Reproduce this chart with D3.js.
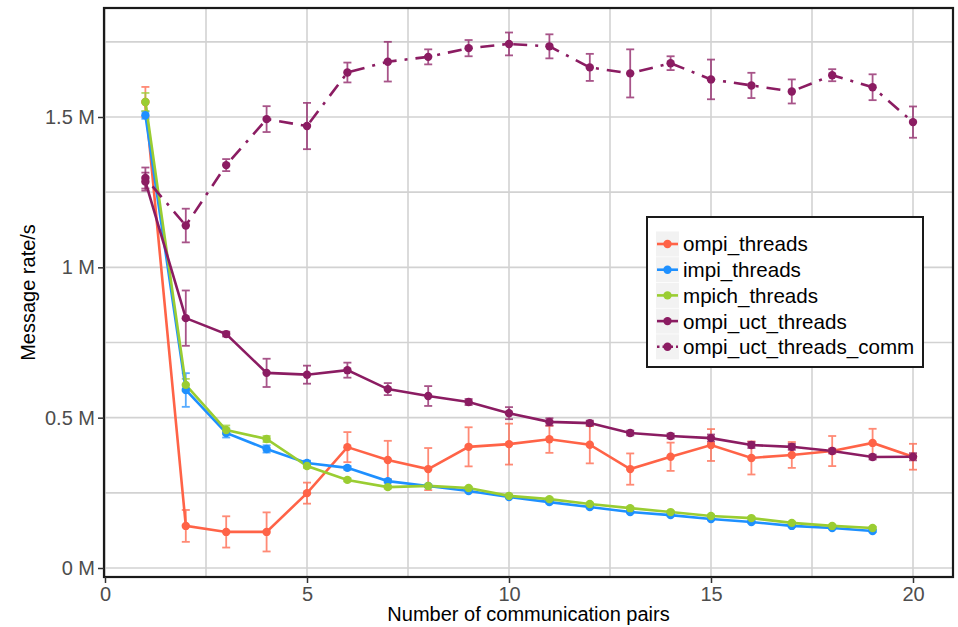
<!DOCTYPE html>
<html>
<head>
<meta charset="utf-8">
<script src="https://cdn.jsdelivr.net/npm/d3@7"></script>
<style>
  body { margin: 0; background: #fff; }
  svg { display: block; font-family: "Liberation Sans", Arial, sans-serif; }
</style>
</head>
<body>
<div id="chart"></div>
<script>
// number of communication pairs
const pairs = [1, 2, 3, 4, 5, 6, 7, 8, 9, 10, 11, 12, 13, 14, 15, 16, 17, 18, 19, 20];

// message rate in millions/s, with error (half height of the error bar)
const ompiThreads = [1.55, 0.140, 0.120, 0.120, 0.249, 0.402, 0.359, 0.329, 0.403, 0.412, 0.428, 0.410, 0.329, 0.370, 0.409, 0.366, 0.376, 0.389, 0.416, 0.370];
const ompiThreadsErr = [0.05, 0.053, 0.052, 0.065, 0.035, 0.05, 0.064, 0.07, 0.065, 0.068, 0.045, 0.062, 0.052, 0.047, 0.053, 0.055, 0.043, 0.05, 0.047, 0.043];

const impiThreads = [1.506, 0.592, 0.449, 0.396, 0.349, 0.333, 0.289, 0.273, 0.256, 0.236, 0.219, 0.203, 0.186, 0.176, 0.163, 0.153, 0.140, 0.133, 0.123];
const impiThreadsErr = [0.012, 0.056, 0.015, 0.012, 0.008, 0.006, 0.005, 0.004, 0.004, 0.004, 0.004, 0.004, 0.004, 0.004, 0.004, 0.004, 0.004, 0.004, 0.004];

const mpichThreads = [1.55, 0.609, 0.459, 0.429, 0.339, 0.293, 0.269, 0.273, 0.266, 0.240, 0.229, 0.213, 0.199, 0.186, 0.173, 0.166, 0.150, 0.140, 0.133];
const mpichThreadsErr = [0.03, 0.02, 0.015, 0.01, 0.006, 0.005, 0.005, 0.004, 0.004, 0.004, 0.004, 0.004, 0.004, 0.004, 0.004, 0.004, 0.004, 0.004, 0.004];

const ompiUctThreads = [1.285, 0.831, 0.778, 0.649, 0.643, 0.658, 0.595, 0.572, 0.552, 0.515, 0.486, 0.482, 0.449, 0.439, 0.432, 0.409, 0.403, 0.389, 0.369, 0.370];
const ompiUctThreadsErr = [0.03, 0.092, 0.008, 0.047, 0.03, 0.025, 0.02, 0.033, 0.01, 0.02, 0.012, 0.008, 0.008, 0.008, 0.012, 0.01, 0.01, 0.008, 0.008, 0.012];

const ompiUctThreadsComm = [1.297, 1.139, 1.340, 1.493, 1.470, 1.648, 1.684, 1.700, 1.729, 1.743, 1.735, 1.665, 1.645, 1.679, 1.625, 1.605, 1.585, 1.639, 1.599, 1.483];
const ompiUctThreadsCommErr = [0.035, 0.056, 0.02, 0.043, 0.077, 0.033, 0.066, 0.025, 0.027, 0.038, 0.04, 0.045, 0.08, 0.023, 0.066, 0.042, 0.04, 0.02, 0.043, 0.052];

const seriesNames = ["ompi_threads", "impi_threads", "mpich_threads", "ompi_uct_threads", "ompi_uct_threads_comm"];
const seriesColors = ["#ff6347", "#1e90ff", "#9acd32", "#8b1c62", "#8b1c62"];

const xTicks = [0, 5, 10, 15, 20];
const yTicks = [0, 0.5, 1, 1.5];

const W = 958, H = 627;
// panel box
const panel = { left: 104, right: 953, top: 8, bottom: 577 };

const x = d3.scaleLinear().domain([0, 20]).range([105, 913]);
const y = d3.scaleLinear().domain([0, 1.5]).range([568, 117]);

const series = [
  { name: seriesNames[0], vals: ompiThreads, errs: ompiThreadsErr, color: seriesColors[0], dash: null },
  { name: seriesNames[1], vals: impiThreads, errs: impiThreadsErr, color: seriesColors[1], dash: null },
  { name: seriesNames[2], vals: mpichThreads, errs: mpichThreadsErr, color: seriesColors[2], dash: null },
  { name: seriesNames[3], vals: ompiUctThreads, errs: ompiUctThreadsErr, color: seriesColors[3], dash: null },
  { name: seriesNames[4], vals: ompiUctThreadsComm, errs: ompiUctThreadsCommErr, color: seriesColors[4], dash: "3,8,14,8" },
].map((s) => ({
  ...s,
  points: s.vals.map((v, i) => ({ n: pairs[i], v: v, e: s.errs[i] })),
}));

const svg = d3.select("#chart").append("svg")
  .attr("width", W)
  .attr("height", H);

// grid: major + minor, all the same light grey
const gridColor = "#d2d2d2";
const grid = svg.append("g");
const xGrid = [0, 2.5, 5, 7.5, 10, 12.5, 15, 17.5, 20];
const yGrid = [0, 0.25, 0.5, 0.75, 1, 1.25, 1.5, 1.75];
grid.selectAll(".gy").data(yGrid).join("line")
  .attr("x1", panel.left).attr("x2", panel.right)
  .attr("y1", (d) => y(d)).attr("y2", (d) => y(d))
  .attr("stroke", gridColor).attr("stroke-width", 1.6);
grid.selectAll(".gx").data(xGrid).join("line")
  .attr("y1", panel.top).attr("y2", panel.bottom)
  .attr("x1", (d) => x(d)).attr("x2", (d) => x(d))
  .attr("stroke", gridColor).attr("stroke-width", 1.6);

const line = d3.line()
  .x((d) => x(d.n))
  .y((d) => y(d.v));

// error bars first, then lines, then points
series.forEach((s) => {
  const g = svg.append("g").attr("stroke", s.color).attr("stroke-width", 1.8).attr("opacity", 0.75);
  s.points.forEach((p) => {
    g.append("line")
      .attr("x1", x(p.n)).attr("x2", x(p.n))
      .attr("y1", y(p.v - p.e)).attr("y2", y(p.v + p.e));
    g.append("line")
      .attr("x1", x(p.n) - 4).attr("x2", x(p.n) + 4)
      .attr("y1", y(p.v - p.e)).attr("y2", y(p.v - p.e));
    g.append("line")
      .attr("x1", x(p.n) - 4).attr("x2", x(p.n) + 4)
      .attr("y1", y(p.v + p.e)).attr("y2", y(p.v + p.e));
  });
});

series.forEach((s) => {
  svg.append("path")
    .datum(s.points)
    .attr("d", line)
    .attr("fill", "none")
    .attr("stroke", s.color)
    .attr("stroke-width", 2.6)
    .attr("stroke-dasharray", s.dash);
});

series.forEach((s) => {
  svg.append("g").selectAll("circle").data(s.points).join("circle")
    .attr("cx", (d) => x(d.n))
    .attr("cy", (d) => y(d.v))
    .attr("r", 4.2)
    .attr("fill", s.color);
});

// panel border
svg.append("rect")
  .attr("x", panel.left).attr("y", panel.top)
  .attr("width", panel.right - panel.left)
  .attr("height", panel.bottom - panel.top)
  .attr("fill", "none")
  .attr("stroke", "#1a1a1a")
  .attr("stroke-width", 2.2);

// axes
const xAxis = d3.axisBottom(x).tickValues(xTicks).tickSize(6).tickPadding(3).tickFormat(d3.format("d"));
const gx = svg.append("g").attr("transform", `translate(0,${panel.bottom})`).call(xAxis);
gx.select(".domain").remove();
gx.selectAll(".tick line").attr("stroke", "#333").attr("stroke-width", 1.5);
gx.selectAll(".tick text").attr("fill", "#4d4d4d").style("font-size", "20px").attr("dy", "0.75em");

const yAxis = d3.axisLeft(y).tickValues(yTicks).tickSize(6).tickPadding(3).tickFormat((d) => `${d} M`);
const gy = svg.append("g").attr("transform", `translate(${panel.left},0)`).call(yAxis);
gy.select(".domain").remove();
gy.selectAll(".tick line").attr("stroke", "#333").attr("stroke-width", 1.5);
gy.selectAll(".tick text").attr("fill", "#4d4d4d").style("font-size", "20px");

// axis titles
svg.append("text")
  .attr("x", (panel.left + panel.right) / 2)
  .attr("y", 621)
  .attr("text-anchor", "middle")
  .style("font-size", "20px")
  .text("Number of communication pairs");

svg.append("text")
  .attr("transform", `translate(35,${(panel.top + panel.bottom) / 2}) rotate(-90)`)
  .attr("text-anchor", "middle")
  .style("font-size", "20px")
  .text("Message rate/s");

// legend
const legend = svg.append("g").attr("transform", "translate(647,217)");
legend.append("rect")
  .attr("width", 276).attr("height", 150)
  .attr("fill", "#fff")
  .attr("stroke", "#1a1a1a")
  .attr("stroke-width", 2);

const rowY = (i) => 27 + i * 25.7;
series.forEach((s, i) => {
  const row = legend.append("g").attr("transform", `translate(9,${rowY(i)})`);
  row.append("rect")
    .attr("x", 0).attr("y", -12.5)
    .attr("width", 23).attr("height", 25)
    .attr("fill", "#f2f2f2");
  row.append("line")
    .attr("x1", 1).attr("x2", 22)
    .attr("stroke", s.color).attr("stroke-width", 2.6)
    .attr("stroke-dasharray", s.dash ? "2.5,3,5,3" : null);
  row.append("circle").attr("cx", 11.5).attr("r", 4.2).attr("fill", s.color);
  row.append("text")
    .attr("x", 27).attr("dy", "0.36em")
    .style("font-size", "20.6px")
    .attr("fill", "#000")
    .text(s.name);
});
</script>
</body>
</html>
